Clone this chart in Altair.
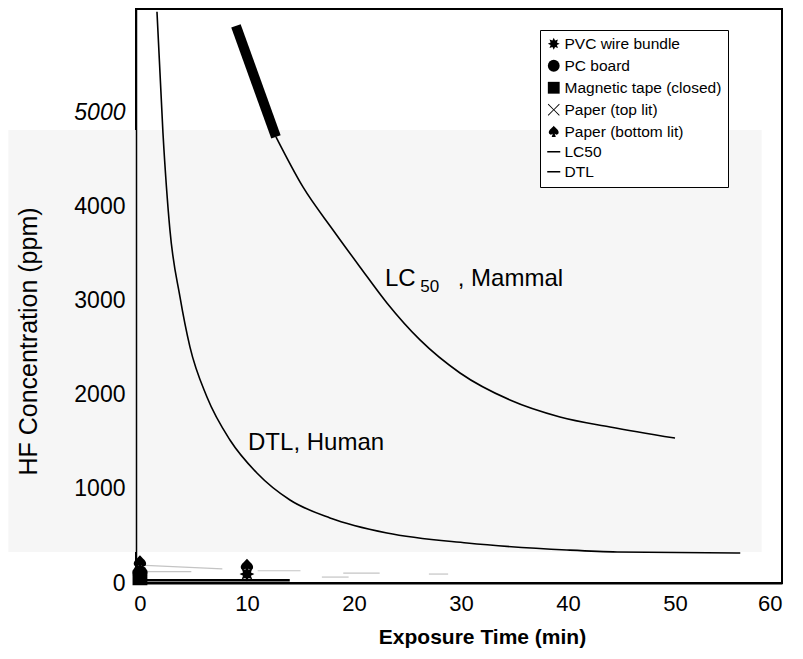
import altair as alt
import pandas as pd

# ---- data ----
lc50_t = [8.97, 12.71, 15.23, 18.04, 20.56, 23.08, 26.17, 29.91, 34.58, 39.25, 43.93, 50.0]
lc50_c = [5921, 4741, 4209, 3752, 3359, 2976, 2583, 2232, 1945, 1765, 1658, 1540]

dtl_t = [1.59, 2.15, 2.80, 3.74, 4.67, 6.26, 8.41, 10.93, 14.02, 17.76, 23.08, 30.56, 39.9, 44.6, 56.1]
dtl_c = [6070, 4783, 3752, 3040, 2509, 1977, 1520, 1169, 882, 691, 531, 425, 351, 330, 319]

pt_material = ["Paper (bottom lit)", "PC board", "Magnetic tape (closed)", "PVC wire bundle",
               "Paper (bottom lit)", "PVC wire bundle"]
pt_t = [0, 0, 0, 0, 10, 10]
pt_c = [215, 110, 55, 80, 178, 95]

# faint scan fragments near the baseline (segments: id, t, c)
frag_id = [1, 1, 2, 2, 3, 3, 4, 4, 5, 5, 6, 6]
frag_t = [0, 7.7, 0, 4.8, 11, 15, 17, 19.5, 19, 22.4, 27, 28.8]
frag_c = [190, 150, 120, 120, 130, 130, 63, 63, 106, 106, 95, 95]

base_t = [0, 14]
base_c = [30, 30]

legend_names = ["PVC wire bundle", "PC board", "Magnetic tape (closed)", "Paper (top lit)",
                "Paper (bottom lit)", "LC50", "DTL"]

ann_text = ["LC", ", Mammal", "DTL, Human"]
ann_t = [22.9, 29.7, 10.1]
ann_c = [3157, 3157, 1414]
sub_text = ["50"]
sub_t = [26.2]
sub_c = [3093]

bg_t = [-12.3, 58.1]
bg_c = [330, 4815]

# ---- shapes (all drawn as filled outlines) ----
star = ("M0,-1L0.22,-0.53L0.71,-0.71L0.53,-0.22L1,0L0.53,0.22L0.71,0.71L0.22,0.53L0,1"
        "L-0.22,0.53L-0.71,0.71L-0.53,0.22L-1,0L-0.53,-0.22L-0.71,-0.71L-0.22,-0.53Z")
spade = ("M0,-1C0.3,-0.6 1,-0.2 0.8,0.3C0.6,0.6 0.3,0.5 0.15,0.3L0.35,0.9L-0.35,0.9"
         "L-0.15,0.3C-0.3,0.5 -0.6,0.6 -0.8,0.3C-1,-0.2 -0.3,-0.6 0,-1Z")
xshape = ("M-1,-0.9L-0.9,-1L0,-0.1L0.9,-1L1,-0.9L0.1,0L1,0.9L0.9,1L0,0.1L-0.9,1L-1,0.9L-0.1,0Z")
lineshape = "M-1.1,-0.13L1.1,-0.13L1.1,0.13L-1.1,0.13Z"
shape_range = [star, "circle", "square", xshape, spade, lineshape, lineshape]

FONT = "Liberation Sans"

xs = alt.Scale(domain=[-0.37, 60], nice=False, zero=False)
ys = alt.Scale(domain=[0, 6100], nice=False)

lc_df = pd.DataFrame({"t": lc50_t, "c": lc50_c})
dtl_df = pd.DataFrame({"t": dtl_t, "c": dtl_c})
pt_df = pd.DataFrame({"material": pt_material, "t": pt_t, "c": pt_c})
frag_df = pd.DataFrame({"id": frag_id, "t": frag_t, "c": frag_c})
base_df = pd.DataFrame({"t": base_t, "c": base_c})
ann_df = pd.DataFrame({"text": ann_text, "t": ann_t, "c": ann_c})
sub_df = pd.DataFrame({"text": sub_text, "t": sub_t, "c": sub_c})
bg_df = pd.DataFrame({"t": [bg_t[0]], "t2": [bg_t[1]], "c": [bg_c[0]], "c2": [bg_c[1]]})

xaxis = alt.Axis(title="Exposure Time  (min)", values=[0, 10, 20, 30, 40, 50, 60],
                 format="d",
                 labelFontSize=22, labelFont=FONT, labelColor="black", labelPadding=10,
                 ticks=False, grid=False, domainColor="black", domainWidth=2,
                 titleFont=FONT, titleFontSize=21, titleFontWeight="bold", titleColor="black",
                 titleX=346, titleY=54, titleBaseline="middle", zindex=1)
yaxis = alt.Axis(title="HF Concentration  (ppm)", values=[0, 1000, 2000, 3000, 4000, 5000],
                 format="d",
                 labelFontSize=23, labelFont=FONT, labelColor="black", labelPadding=11,
                 labelFontStyle={"condition": {"test": "datum.value == 5000", "value": "italic"},
                                 "value": "normal"},
                 ticks=False, grid=False, domainColor="black", domainWidth=1.5,
                 titleFont=FONT, titleFontSize=25, titleFontWeight="normal", titleColor="black",
                 titleX=-108, titleY=332, titleAngle=-90, titleAlign="center",
                 titleBaseline="middle", zindex=1)

bg = alt.Chart(bg_df).mark_rect(color="#f6f6f6", clip=False).encode(
    x=alt.X("t:Q", scale=xs, axis=xaxis), x2="t2:Q",
    y=alt.Y("c:Q", scale=ys, axis=yaxis), y2="c2:Q")

lc_thick = alt.Chart(lc_df.iloc[:2]).mark_line(color="black", strokeWidth=10, clip=True,
                                               strokeCap="butt").encode(
    x=alt.X("t:Q", scale=xs), y=alt.Y("c:Q", scale=ys))
lc_line = alt.Chart(lc_df.iloc[1:]).mark_line(color="black", strokeWidth=1.6,
                                              interpolate="monotone", clip=True).encode(
    x=alt.X("t:Q", scale=xs), y=alt.Y("c:Q", scale=ys))
dtl_line = alt.Chart(dtl_df).mark_line(color="black", strokeWidth=1.6,
                                       interpolate="monotone", clip=True).encode(
    x=alt.X("t:Q", scale=xs), y=alt.Y("c:Q", scale=ys))

frag = alt.Chart(frag_df).mark_line(color="#c4c4c4", strokeWidth=1.2).encode(
    x=alt.X("t:Q", scale=xs), y=alt.Y("c:Q", scale=ys), detail="id:N")
base = alt.Chart(base_df).mark_line(color="black", strokeWidth=2.5).encode(
    x=alt.X("t:Q", scale=xs), y=alt.Y("c:Q", scale=ys))

pts = alt.Chart(pt_df).mark_point(filled=True, color="black", size=220, opacity=1).encode(
    x=alt.X("t:Q", scale=xs), y=alt.Y("c:Q", scale=ys),
    shape=alt.Shape("material:N",
                    scale=alt.Scale(domain=legend_names, range=shape_range),
                    legend=alt.Legend(title=None, orient="none", legendX=404, legendY=21,
                                      labelFont=FONT, labelFontSize=15.5, labelColor="black",
                                      symbolSize=140, symbolFillColor="black",
                                      rowPadding=3, padding=6, labelOffset=3,
                                      strokeColor="black", fillColor="white",
                                      symbolOpacity=1)))

ann = alt.Chart(ann_df).mark_text(align="left", baseline="alphabetic", fontSize=24,
                                  font=FONT, color="black").encode(
    x=alt.X("t:Q", scale=xs), y=alt.Y("c:Q", scale=ys), text="text:N")
sub = alt.Chart(sub_df).mark_text(align="left", baseline="alphabetic", fontSize=17,
                                  font=FONT, color="black").encode(
    x=alt.X("t:Q", scale=xs), y=alt.Y("c:Q", scale=ys), text="text:N")

chart = alt.layer(bg, frag, base, lc_thick, lc_line, dtl_line, pts, ann, sub).properties(
    width=646, height=574,
    autosize=alt.AutoSizeParams(type="none"),
    padding={"left": 128, "top": 1, "right": 12, "bottom": 70},
    background="white",
).configure_view(stroke="black", strokeWidth=2)

chart.save("out.html", embed_options={"renderer": "svg", "actions": False})
